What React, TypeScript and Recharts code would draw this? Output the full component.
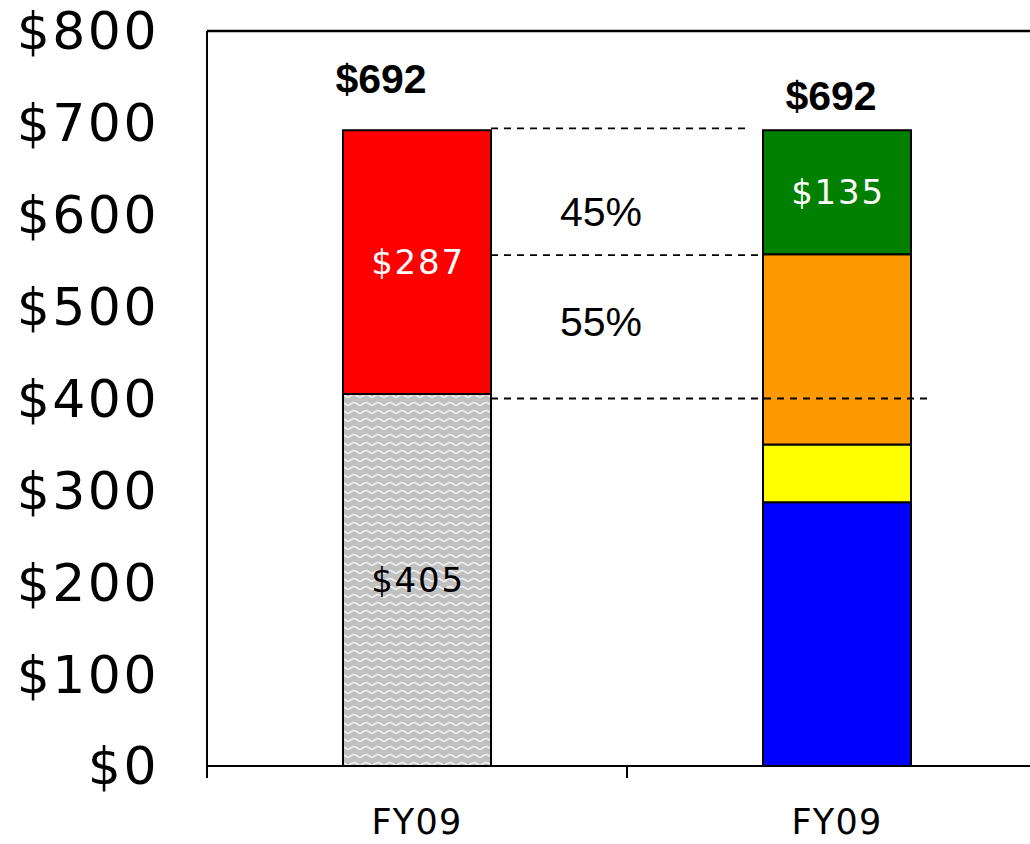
import React from "react";
import { BarChart, Bar, XAxis, YAxis, LabelList, ReferenceLine } from "recharts";

// ---- data ----
const categoryIds = ["a", "b"];
const categoryLabels = ["FY09", "FY09"];
const grayValues = [405, 0];
const redValues = [287, 0];
const blueValues = [0, 287];
const yellowValues = [0, 63];
const orangeValues = [0, 207];
const greenValues = [0, 135];
const totals = [692, 692];
const yTicks = [0, 100, 200, 300, 400, 500, 600, 700, 800];
const dashLevels = [694, 556, 400];
const pctLabels = ["45%", "55%"];
const pctLevels = [603, 483];

const data = categoryIds.map((id, i) => ({
  id,
  gray: grayValues[i],
  red: redValues[i],
  blue: blueValues[i],
  yellow: yellowValues[i],
  orange: orangeValues[i],
  green: greenValues[i],
  total: totals[i],
}));

const BAR = 148;
const dashExtents = [
  [BAR / 2, -BAR / 2 - 12],
  [BAR / 2, -BAR / 2],
  [BAR / 2, BAR / 2 + 21],
];
const totalOffsets = [
  { dx: -36, dy: -51 },
  { dx: -6, dy: -34 },
];

const money = (v: number) => (v ? "$" + v : "");

const inner = (fill: string) => (props: any) => {
  const { x, y, width, height, value } = props;
  if (!value) return null;
  return (
    <text
      x={x + width / 2 + 1}
      y={y + height / 2}
      textAnchor="middle"
      dominantBaseline="central"
      fill={fill}
      fontFamily="DejaVu Sans"
      fontSize={34}
      letterSpacing={1.8}
    >
      {money(value)}
    </text>
  );
};

const totalLabel = (cat: number) => (props: any) => {
  const { x, y, width, value } = props;
  if (!value) return null;
  const off = totalOffsets[cat];
  return (
    <text
      x={x + width / 2 + off.dx}
      y={y + off.dy}
      textAnchor="middle"
      dominantBaseline="central"
      fill="#000"
      fontFamily="Liberation Sans"
      fontWeight="bold"
      fontSize={41}
    >
      {"$" + totals[cat]}
    </text>
  );
};

const dashShape = (i: number) => (props: any) => {
  const { x1, x2, y1 } = props;
  const [a, b] = dashExtents[i];
  return (
    <line
      x1={x1 + a}
      x2={x2 + b}
      y1={y1}
      y2={y1}
      stroke="#000"
      strokeWidth={1.8}
      strokeDasharray="7 6"
    />
  );
};

const pctShape = (i: number) => (props: any) => {
  const { x1, x2, y1 } = props;
  return (
    <text
      x={(x1 + x2) / 2 - 26}
      y={y1}
      textAnchor="middle"
      dominantBaseline="central"
      fill="#000"
      fontFamily="Liberation Sans"
      fontSize={41}
    >
      {pctLabels[i]}
    </text>
  );
};

const XTick = (props: any) => {
  const { x, y, payload, index } = props;
  const half = payload && payload.offset ? payload.offset : 210;
  const axisY = y - 44;
  return (
    <g>
      <line x1={x - half} x2={x - half} y1={axisY} y2={axisY + 12} stroke="#000" strokeWidth={2} />
      {index === categoryIds.length - 1 && (
        <line x1={x + half} x2={x + half} y1={axisY} y2={axisY + 12} stroke="#000" strokeWidth={2} />
      )}
      <text
        x={x}
        y={y + 24}
        textAnchor="middle"
        fill="#000"
        fontFamily="DejaVu Sans"
        fontSize={35}
        letterSpacing={1.3}
      >
        {categoryLabels[index]}
      </text>
    </g>
  );
};

export default function App() {
  return (
    <div
      style={{
        position: "absolute",
        left: 0,
        top: 0,
        width: 1030,
        height: 844,
        overflow: "hidden",
        background: "#fff",
      }}
    >
      <svg width={0} height={0} style={{ position: "absolute" }}>
        <defs>
          <pattern id="zigzag" width="12" height="8" patternUnits="userSpaceOnUse">
            <rect width="12" height="8" fill="#C0C0C0" />
            <path
              d="M0,5.5 C2,5.5 3,2.5 6,2.5 C9,2.5 10,5.5 12,5.5"
              stroke="#F2F2F2"
              strokeWidth="1.7"
              fill="none"
            />
          </pattern>
        </defs>
      </svg>
      <BarChart
        width={1052}
        height={844}
        data={data}
        margin={{ top: 31, right: 5, left: 0, bottom: 0 }}
        barSize={BAR}
      >
        <XAxis
          dataKey="id"
          height={78}
          axisLine={{ stroke: "#000", strokeWidth: 2 }}
          tickLine={false}
          tickSize={12}
          tickMargin={32}
          tick={<XTick />}
        />
        <YAxis
          width={207}
          domain={[0, 800]}
          ticks={yTicks}
          interval={0}
          tickFormatter={(v: number) => "$" + v}
          axisLine={{ stroke: "#000", strokeWidth: 2 }}
          tickLine={false}
          tickMargin={42}
          tick={{ fill: "#000", fontFamily: "DejaVu Sans", fontSize: 52, letterSpacing: 2.5 }}
        />
        <ReferenceLine y={800} stroke="#000" strokeWidth={2.5} />
        <Bar dataKey="gray" stackId="s" fill="url(#zigzag)" stroke="#000" strokeWidth={2} isAnimationActive={false}>
          <LabelList dataKey="gray" content={inner("#000")} />
        </Bar>
        <Bar dataKey="red" stackId="s" fill="#FF0000" stroke="#000" strokeWidth={2} isAnimationActive={false}>
          <LabelList dataKey="red" content={inner("#fff")} />
          <LabelList dataKey="red" content={totalLabel(0)} />
        </Bar>
        <Bar dataKey="blue" stackId="s" fill="#0000FF" stroke="#000" strokeWidth={2} isAnimationActive={false} />
        <Bar dataKey="yellow" stackId="s" fill="#FFFF00" stroke="#000" strokeWidth={2} isAnimationActive={false} />
        <Bar dataKey="orange" stackId="s" fill="#FF9900" stroke="#000" strokeWidth={2} isAnimationActive={false} />
        <Bar dataKey="green" stackId="s" fill="#008000" stroke="#000" strokeWidth={2} isAnimationActive={false}>
          <LabelList dataKey="green" content={inner("#fff")} />
          <LabelList dataKey="green" content={totalLabel(1)} />
        </Bar>
        {dashLevels.map((lv, i) => (
          <ReferenceLine
            key={"d" + i}
            segment={[
              { x: categoryIds[0], y: lv },
              { x: categoryIds[1], y: lv },
            ]}
            shape={dashShape(i)}
          />
        ))}
        {pctLevels.map((lv, i) => (
          <ReferenceLine
            key={"p" + i}
            segment={[
              { x: categoryIds[0], y: lv },
              { x: categoryIds[1], y: lv },
            ]}
            shape={pctShape(i)}
          />
        ))}
      </BarChart>
    </div>
  );
}
